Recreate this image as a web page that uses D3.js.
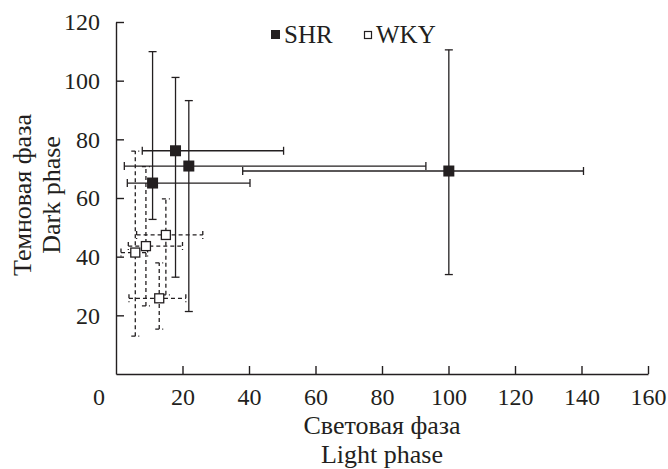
<!DOCTYPE html>
<html>
<head>
<meta charset="utf-8"/>
<script src="https://d3js.org/d3.v7.min.js"></script>
<style>
  body { margin: 0; background: #fff; }
  svg text { font-family: "Liberation Serif", "DejaVu Serif", serif; fill: #231f20; }
</style>
</head>
<body>
<div id="chart"></div>
<script>
    // SHR (filled squares, solid error bars)
    var shrX   = [11.0, 17.9, 21.9, 100.1];
    var shrY   = [65.1, 76.1, 70.9, 69.2];
    var shrXLo = [3.4, 7.9, 2.5, 38.1];
    var shrXHi = [40.3, 50.4, 93.2, 140.6];
    var shrYLo = [52.7, 33.0, 21.3, 33.9];
    var shrYHi = [109.9, 101.1, 93.2, 110.5];

    // WKY (open squares, dashed error bars)
    var wkyX   = [5.8, 9.0, 15.0, 13.0];
    var wkyY   = [41.4, 43.6, 47.4, 25.8];
    var wkyXLo = [1.5, 3.7, 6.2, 3.9];
    var wkyXHi = [9.5, 20.0, 26.1, 21.0];
    var wkyYLo = [12.9, 23.2, 27.0, 15.3];
    var wkyYHi = [76.0, 70.7, 59.7, 37.9];

    var xTicks = [20, 40, 60, 80, 100, 120, 140, 160];
    var yTicks = [20, 40, 60, 80, 100, 120];

    var width = 668, height = 469;
    var ink = "#231f20";

    var svg = d3.select("#chart").append("svg")
        .attr("width", width)
        .attr("height", height);

    var x = d3.scaleLinear().domain([0, 160]).range([116, 648]);
    var y = d3.scaleLinear().domain([0, 120]).range([374, 22]);

    // axes, ticks point inward
    var gx = svg.append("g")
        .attr("transform", "translate(0," + y(0) + ")")
        .call(d3.axisBottom(x).tickValues(xTicks).tickSize(-8).tickPadding(14).tickSizeOuter(0));
    var gy = svg.append("g")
        .attr("transform", "translate(" + x(0) + ",0)")
        .call(d3.axisLeft(y).tickValues(yTicks).tickSize(-8).tickPadding(16).tickSizeOuter(0));

    [gx, gy].forEach(function(g) {
        g.select(".domain").attr("stroke", ink).attr("stroke-width", 1.4);
        g.selectAll(".tick line").attr("stroke", ink).attr("stroke-width", 1.4);
        g.selectAll(".tick text").style("font-size", "24px").attr("fill", ink);
    });

    // lone "0" at the corner
    svg.append("text")
        .attr("x", 99).attr("y", 405)
        .attr("text-anchor", "middle")
        .style("font-size", "24px")
        .text("0");

    // axis titles
    svg.append("text").attr("x", x(80)).attr("y", 434)
        .attr("text-anchor", "middle").style("font-size", "26px").text("Световая фаза");
    svg.append("text").attr("x", x(80)).attr("y", 463)
        .attr("text-anchor", "middle").style("font-size", "26px").text("Light phase");

    svg.append("text")
        .attr("transform", "translate(31,195) rotate(-90)")
        .attr("text-anchor", "middle").style("font-size", "26px").text("Темновая фаза");
    svg.append("text")
        .attr("transform", "translate(60,195) rotate(-90)")
        .attr("text-anchor", "middle").style("font-size", "26px").text("Dark phase");

    function drawSeries(xs, ys, xlo, xhi, ylo, yhi, dash, filled, size) {
        var g = svg.append("g");
        var cap = 4;
        var data = xs.map(function(v, i) {
            return { x: v, y: ys[i], xlo: xlo[i], xhi: xhi[i], ylo: ylo[i], yhi: yhi[i] };
        });
        var segs = [];
        data.forEach(function(d) {
            segs.push([x(d.xlo), y(d.y), x(d.xhi), y(d.y)]);
            segs.push([x(d.x), y(d.ylo), x(d.x), y(d.yhi)]);
            segs.push([x(d.xlo), y(d.y) - cap, x(d.xlo), y(d.y) + cap]);
            segs.push([x(d.xhi), y(d.y) - cap, x(d.xhi), y(d.y) + cap]);
            segs.push([x(d.x) - cap, y(d.ylo), x(d.x) + cap, y(d.ylo)]);
            segs.push([x(d.x) - cap, y(d.yhi), x(d.x) + cap, y(d.yhi)]);
        });
        g.selectAll("line").data(segs).enter().append("line")
            .attr("x1", function(s) { return s[0]; })
            .attr("y1", function(s) { return s[1]; })
            .attr("x2", function(s) { return s[2]; })
            .attr("y2", function(s) { return s[3]; })
            .attr("stroke", ink)
            .attr("stroke-width", 1.3)
            .attr("stroke-dasharray", dash);
        g.selectAll("rect").data(data).enter().append("rect")
            .attr("x", function(d) { return x(d.x) - size / 2; })
            .attr("y", function(d) { return y(d.y) - size / 2; })
            .attr("width", size).attr("height", size)
            .attr("fill", filled ? ink : "#fff")
            .attr("stroke", ink)
            .attr("stroke-width", filled ? 0 : 1.3);
    }

    drawSeries(wkyX, wkyY, wkyXLo, wkyXHi, wkyYLo, wkyYHi, "4,3", false, 9);
    drawSeries(shrX, shrY, shrXLo, shrXHi, shrYLo, shrYHi, null, true, 11);

    // legend
    svg.append("rect").attr("x", 271).attr("y", 30).attr("width", 9).attr("height", 9).attr("fill", ink);
    svg.append("text").attr("x", 284).attr("y", 43).style("font-size", "25px").text("SHR");
    svg.append("rect").attr("x", 364.5).attr("y", 31.5).attr("width", 7).attr("height", 7)
        .attr("fill", "#fff").attr("stroke", ink).attr("stroke-width", 1.2);
    svg.append("text").attr("x", 376).attr("y", 43).style("font-size", "25px").text("WKY");
</script>
</body>
</html>
